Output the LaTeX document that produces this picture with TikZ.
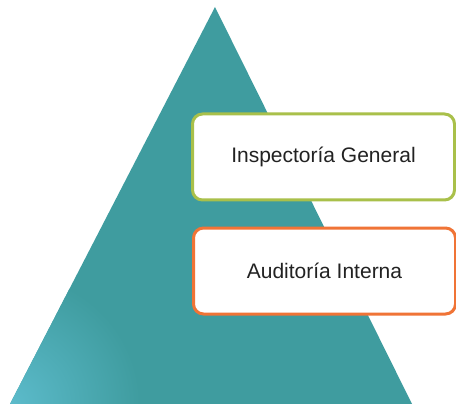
\documentclass[tikz,border=0pt]{standalone}
\usepackage{fontspec}
\setmainfont{Liberation Sans}
\definecolor{teal1}{HTML}{3F9C9F}
\definecolor{teallight}{HTML}{5CBBCB}
\definecolor{boxgreen}{HTML}{A9C04A}
\definecolor{boxorange}{HTML}{F07436}
\definecolor{txt}{HTML}{222222}
\tikzset{
  levelbox/.style={draw, line width=3pt, rounded corners=10pt, fill=white,
    minimum width=262pt, minimum height=86pt, inner sep=0pt,
    font=\fontsize{21}{24}\selectfont, text=txt},
}
\begin{document}
\begin{tikzpicture}[x=1pt,y=-1pt]
\useasboundingbox (0,0) rectangle (456,404);
\fill[white] (0,0) rectangle (456,404);
% pyramid
\coordinate (apex) at (215,7);
\coordinate (bl) at (10,404);
\coordinate (br) at (412,404);
\fill[teal1] (apex) -- (br) -- (bl) -- cycle;
\begin{scope}
  \clip (apex) -- (br) -- (bl) -- cycle;
  \shade[inner color=teallight, outer color=teal1] (10,404) circle (130);
\end{scope}
% boxes
\node[levelbox, draw=boxgreen] (ig) at (323.5,157) {Inspectoría General};
\node[levelbox, draw=boxorange] (ai) at (324.5,271) {Auditoría Interna};
\end{tikzpicture}
\end{document}
